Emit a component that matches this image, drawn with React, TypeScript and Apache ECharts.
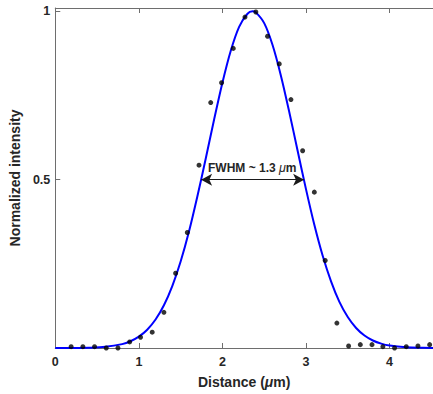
import React, { useEffect, useRef } from "react";
import * as echarts from "echarts";

// Measured data points (distance in µm, normalized intensity)
const pointX = [0.19, 0.33, 0.47, 0.61, 0.75, 0.89, 1.02, 1.16, 1.30, 1.44, 1.58, 1.72, 1.86, 1.99, 2.13, 2.27, 2.40, 2.54, 2.68, 2.82, 2.96, 3.10, 3.23, 3.37, 3.51, 3.65, 3.79, 3.92, 4.06, 4.20, 4.34, 4.48];
const pointY = [0.004, 0.004, 0.004, 0.0, 0.0, 0.018, 0.032, 0.047, 0.106, 0.222, 0.343, 0.543, 0.729, 0.788, 0.89, 0.983, 0.998, 0.926, 0.844, 0.738, 0.586, 0.463, 0.26, 0.074, 0.006, 0.01, 0.01, 0.004, 0.0, 0.004, 0.006, 0.01];

// Fitted curve
const fitX = [0, 0.2, 0.4, 0.6, 0.8, 0.9, 1.0, 1.1, 1.2, 1.3, 1.4, 1.5, 1.6, 1.7, 1.8, 1.9, 2.0, 2.1, 2.2, 2.3, 2.36, 2.4, 2.5, 2.6, 2.7, 2.8, 2.9, 3.0, 3.1, 3.2, 3.3, 3.4, 3.5, 3.6, 3.7, 3.8, 3.9, 4.0, 4.2, 4.4, 4.52];
const fitY = [0.0, 0.0002, 0.0009, 0.0034, 0.0115, 0.020, 0.0336, 0.0543, 0.0847, 0.127, 0.184, 0.257, 0.346, 0.450, 0.562, 0.678, 0.788, 0.883, 0.954, 0.993, 1.0, 0.997, 0.965, 0.900, 0.809, 0.701, 0.586, 0.472, 0.366, 0.274, 0.198, 0.137, 0.092, 0.0595, 0.037, 0.0223, 0.0129, 0.0072, 0.002, 0.0005, 0.0002];

// FWHM arrow ends (µm) at half maximum
const fwhmX = [1.745, 2.978];
const fwhmY = 0.5;
const fwhmLabel = "FWHM ~ 1.3 ";

const xTicks = [0, 1, 2, 3, 4];
const yTicks = [0.5, 1];

const FONT = "Arial, 'Liberation Sans', Helvetica, sans-serif";
const AXIS_COLOR = "#6e6e6e";
const TEXT_COLOR = "#262626";

export default function App() {
  const ref = useRef<HTMLDivElement>(null);
  useEffect(() => {
    if (!ref.current) return;
    const chart = echarts.init(ref.current, null, { renderer: "svg" });
    const fmtX = (v: number) => (xTicks.includes(v) ? String(v) : "");
    const fmtY = (v: number) => (yTicks.includes(v) ? String(v) : "");
    chart.setOption({
      animation: false,
      textStyle: { fontFamily: FONT },
      grid: { left: 53, right: 0, top: 8, bottom: 42, containLabel: false },
      xAxis: [
        {
          type: "value",
          min: 0,
          max: 4.52,
          interval: 1,
          name: "{b|Distance (}{i|μ}{b|m)}",
          nameLocation: "middle",
          nameGap: 27,
          nameTextStyle: {
            fontFamily: FONT,
            fontWeight: "bold",
            fontSize: 14,
            color: TEXT_COLOR,
            rich: {
              b: { fontFamily: FONT, fontWeight: "bold", fontSize: 14, color: TEXT_COLOR },
              i: { fontFamily: FONT, fontStyle: "italic", fontSize: 14, color: TEXT_COLOR },
            },
          },
          axisLine: { show: true, onZero: false, lineStyle: { color: AXIS_COLOR, width: 1 } },
          axisTick: { show: true, inside: true, length: 5, lineStyle: { color: AXIS_COLOR } },
          axisLabel: {
            formatter: fmtX,
            fontFamily: FONT,
            fontWeight: "bold",
            fontSize: 12.5,
            color: TEXT_COLOR,
            margin: 7,
            showMaxLabel: false,
          },
          splitLine: { show: false },
        },
        {
          type: "value",
          position: "top",
          min: 0,
          max: 4.52,
          interval: 1,
          axisLine: { show: true, onZero: false, lineStyle: { color: AXIS_COLOR, width: 1 } },
          axisTick: { show: true, inside: true, length: 5, lineStyle: { color: AXIS_COLOR } },
          axisLabel: { show: false },
          splitLine: { show: false },
        },
      ],
      yAxis: {
        type: "value",
        min: 0,
        max: 1.01,
        interval: 0.5,
        name: "Normalized intensity",
        nameLocation: "middle",
        nameGap: 23,
        nameTextStyle: {
          fontFamily: FONT,
          fontWeight: "bold",
          fontSize: 14,
          color: TEXT_COLOR,
        },
        axisLine: { show: true, onZero: false, lineStyle: { color: AXIS_COLOR, width: 1 } },
        axisTick: { show: true, inside: true, length: 5, lineStyle: { color: AXIS_COLOR } },
        axisLabel: {
          formatter: fmtY,
          fontFamily: FONT,
          fontWeight: "bold",
          fontSize: 12.5,
          color: TEXT_COLOR,
          margin: 5,
          showMaxLabel: false,
        },
        splitLine: { show: false },
      },
      series: [
        {
          type: "line",
          name: "fit",
          data: fitX.map((x, i) => [x, fitY[i]]),
          smooth: 0.3,
          showSymbol: false,
          symbol: "none",
          lineStyle: { color: "#0000ff", width: 2 },
          z: 2,
          markLine: {
            silent: true,
            symbol: ["arrow", "arrow"],
            symbolSize: [9, 11],
            label: { show: false },
            lineStyle: { color: "#1a1a1a", width: 1, type: "solid" },
            data: [
              [
                { coord: [fwhmX[0], fwhmY] },
                { coord: [fwhmX[1], fwhmY] },
              ],
            ],
          },
        },
        {
          type: "scatter",
          name: "data",
          data: pointX.map((x, i) => [x, pointY[i]]),
          symbol: "circle",
          symbolSize: 5,
          itemStyle: { color: "#000000" },
          z: 3,
        },
      ],
      graphic: [
        {
          type: "text",
          left: 208,
          top: 161,
          style: {
            text: "{b|" + fwhmLabel + "}{i|μ}{b|m}",
            rich: {
              b: { fontFamily: FONT, fontWeight: "bold", fontSize: 12, fill: TEXT_COLOR },
              i: { fontFamily: FONT, fontStyle: "italic", fontSize: 12.5, fill: TEXT_COLOR },
            },
          },
        },
      ],
    });
    return () => chart.dispose();
  }, []);
  return (
    <div
      ref={ref}
      style={{ position: "fixed", left: 0, top: 0, width: 433, height: 394, background: "#fff" }}
    />
  );
}
